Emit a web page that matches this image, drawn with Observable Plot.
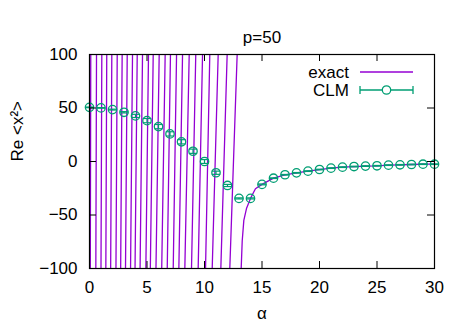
<!DOCTYPE html>
<html><head><meta charset="utf-8">
<script src="https://cdn.jsdelivr.net/npm/d3@7"></script>
<script src="https://cdn.jsdelivr.net/npm/@observablehq/plot@0.6"></script>
<style>body{margin:0;background:#fff}</style>
</head><body><div id="chart"></div>
<script>
// ---- text ----
const title = "p=50";
const xLabel = "α";
const yLabel = "Re <x²>";
const legendLabels = ["exact", "CLM"];
const xTicks = [0, 5, 10, 15, 20, 25, 30];
const yTicks = [-100, -50, 0, 50, 100];

// ---- exact solution: branches between poles (α where the curve crosses Re=-100 and Re=+100) ----
const branchAlphaAtMinus100 = [0.07, 0.55, 1.00, 1.42, 1.84, 2.30, 2.71, 3.13, 3.57, 3.96, 4.40, 4.90, 5.29, 5.78, 6.28, 6.76, 7.28, 7.77, 8.29, 8.87, 9.45, 10.09, 10.67, 11.42, 12.20];
const branchAlphaAtPlus100  = [0.11, 0.61, 1.07, 1.50, 1.94, 2.41, 2.84, 3.28, 3.74, 4.15, 4.61, 5.13, 5.54, 6.06, 6.58, 7.04, 7.57, 8.09, 8.67, 9.24, 9.83, 10.46, 11.19, 11.97, 12.84];
// last branch, after the final pole
const tailAlpha = [13.19, 13.28, 13.42, 13.65, 14.0, 14.43, 15, 16, 17, 18, 19, 20, 21, 22, 23, 24, 25, 26, 27, 28, 29, 30];
const tailRe    = [-100, -74, -55, -44, -34.5, -25.5, -21.4, -15.6, -12.4, -10.6, -9.0, -7.5, -6.2, -5.3, -4.7, -4.3, -4.0, -3.4, -3.1, -2.8, -2.5, -2.4];

// ---- CLM data ----
const clmAlpha = [0,1,2,3,4,5,6,7,8,9,10,11,12,13,14,15,16,17,18,19,20,21,22,23,24,25,26,27,28,29,30];
const clmRe    = [50.6, 50.1, 48.5, 46.0, 42.6, 38.2, 32.6, 25.8, 18.4, 9.6, 0, -10.5, -22.4, -34.5, -34.5, -21.4, -15.6, -12.4, -10.6, -9.0, -7.5, -6.2, -5.3, -4.7, -4.3, -4.0, -3.4, -3.1, -2.8, -2.5, -2.5];
const clmErr   = [0.3, 0.3, 0.4, 0.6, 1.5, 2.0, 2.0, 2.0, 2.0, 2.0, 1.8, 1.5, 1.0, 0.5, 0.5, 0.4, 0.3, 0.3, 0.3, 0.3, 0.3, 0.3, 0.3, 0.3, 0.3, 0.3, 0.3, 0.3, 0.3, 0.3, 0.3];

const purple = "#9400d3";
const green = "#009e73";

// build tables
const exact = [];
branchAlphaAtMinus100.forEach((a, i) => {
  exact.push({b: i, a, v: -100});
  exact.push({b: i, a: branchAlphaAtPlus100[i], v: 100});
});
tailAlpha.forEach((a, i) => exact.push({b: "tail", a, v: tailRe[i]}));

const clm = clmAlpha.map((a, i) => ({a, v: clmRe[i], e: clmErr[i]}));
const caps = clm.flatMap(d => [{a: d.a, v: d.v - d.e}, {a: d.a, v: d.v + d.e}]);

const hline = {draw(ctx, size) { const r = Math.sqrt(size / Math.PI); ctx.moveTo(-r, 0); ctx.lineTo(r, 0); }};

const W = 467, H = 327, mL = 89, mR = 33, mT = 54, mB = 59;
const fw = W - mL - mR, fh = H - mT - mB, tk = 7;

const legend = (index, scales, values, dims) => {
  const g = d3.create("svg:g").attr("font-size", 17);
  const right = dims.width - dims.marginRight;
  const top = dims.marginTop;
  const rows = [top + 18, top + 36];
  const x0 = right - 74, x1 = right - 21, xm = (x0 + x1) / 2;
  legendLabels.forEach((t, i) => {
    g.append("text").attr("x", right - 85).attr("y", rows[i]).attr("dy", "0.35em")
      .attr("text-anchor", "end").attr("fill", "black").text(t);
  });
  g.append("line").attr("x1", x0).attr("x2", x1).attr("y1", rows[0]).attr("y2", rows[0])
    .attr("stroke", purple).attr("stroke-width", 1.3);
  g.append("line").attr("x1", x0).attr("x2", x1).attr("y1", rows[1]).attr("y2", rows[1])
    .attr("stroke", green).attr("stroke-width", 1.3);
  [x0, x1].forEach(x => g.append("line").attr("x1", x).attr("x2", x).attr("y1", rows[1] - 4).attr("y2", rows[1] + 4)
    .attr("stroke", green).attr("stroke-width", 1.3));
  g.append("circle").attr("cx", xm).attr("cy", rows[1]).attr("r", 4.2)
    .attr("fill", "white").attr("stroke", green).attr("stroke-width", 1.3);
  return g.node();
};

const chart = Plot.plot({
  width: W, height: H,
  marginLeft: mL, marginRight: mR, marginTop: mT, marginBottom: mB,
  style: {fontFamily: "'Liberation Sans', Arial, sans-serif", fontSize: "17px", background: "white", color: "black", overflow: "visible"},
  x: {domain: [0, 30]},
  y: {domain: [-100, 100]},
  marks: [
    Plot.line(exact, {x: "a", y: "v", z: "b", stroke: purple, strokeWidth: 1.3, clip: true, curve: "linear"}),
    Plot.link(clm, {x1: "a", x2: "a", y1: d => d.v - d.e, y2: d => d.v + d.e, stroke: green, strokeWidth: 1.2}),
    Plot.dot(caps, {x: "a", y: "v", symbol: hline, r: 4.2, stroke: green, strokeWidth: 1.2}),
    Plot.dot(clm, {x: "a", y: "v", r: 4.2, stroke: green, strokeWidth: 1.3, fill: "none"}),
    Plot.frame({stroke: "black", strokeWidth: 1.2}),
    Plot.tickX(xTicks, {x: d => d, insetTop: fh - tk, stroke: "black"}),
    Plot.tickX(xTicks, {x: d => d, insetBottom: fh - tk, stroke: "black"}),
    Plot.tickY(yTicks, {y: d => d, insetRight: fw - tk, stroke: "black"}),
    Plot.tickY(yTicks, {y: d => d, insetLeft: fw - tk, stroke: "black"}),
    Plot.axisX(xTicks, {tickSize: 0, tickPadding: 12, label: null, fontSize: 17}),
    Plot.axisY(yTicks, {tickSize: 0, tickPadding: 12, label: null, fontSize: 17}),
    Plot.text([title], {frameAnchor: "top", dy: -24, fontSize: 17}),
    Plot.text([xLabel], {frameAnchor: "bottom", dy: 50, fontSize: 17}),
    Plot.text([yLabel], {frameAnchor: "left", dx: -72, rotate: -90, fontSize: 17}),
    legend
  ]
});
document.getElementById("chart").append(chart);
</script>
</body></html>
